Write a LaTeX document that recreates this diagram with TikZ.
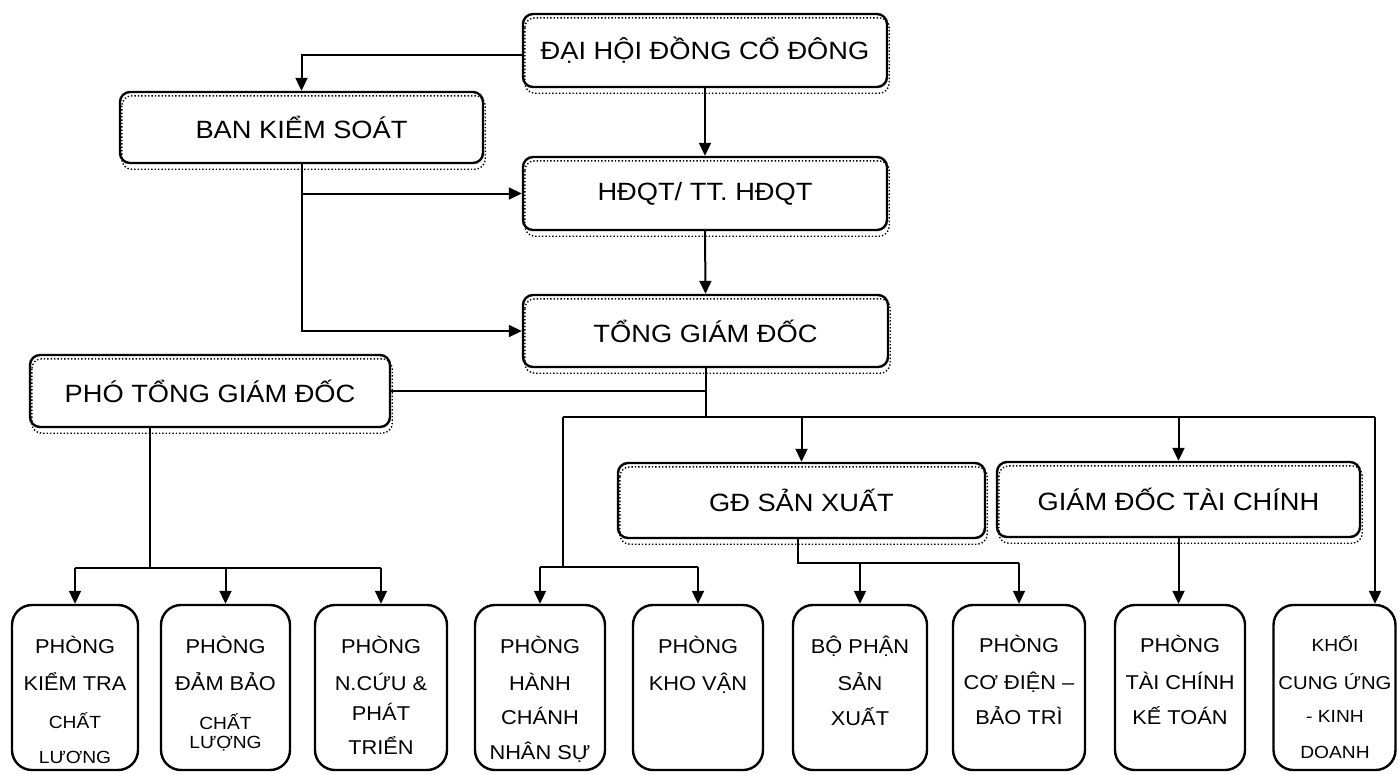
\documentclass[tikz,border=0pt]{standalone}
\usepackage{fontspec}
\setmainfont{Liberation Sans}[FakeStretch=1.09]
\usetikzlibrary{arrows.meta}
\begin{document}
\begin{tikzpicture}[x=0.5pt,y=-0.5pt,
  topbox/.style={draw, line width=1.2pt, rounded corners=5pt, inner sep=0pt, font=\fontsize{12.5}{15}\selectfont},
  botbox/.style={draw, line width=1.2pt, rounded corners=10pt, inner sep=0pt, minimum height=82.5pt},
  ln/.style={anchor=base, inner sep=0pt, font=\fontsize{10}{12}\selectfont},
  sm/.style={anchor=base, inner sep=0pt, font=\fontsize{8.8}{10}\selectfont},
  md/.style={anchor=base, inner sep=0pt, font=\fontsize{9.3}{11}\selectfont},
  arr/.style={-{Triangle[length=6.5pt,width=6pt]}, line width=1pt},
  con/.style={line width=1pt}]
\useasboundingbox (0,0) rectangle (1398,773);

% upper boxes
\node[topbox, minimum width=182pt, minimum height=36.5pt] (dh) at (705,50.5) {ĐẠI HỘI ĐỒNG CỔ ĐÔNG};
\node[topbox, minimum width=181.5pt, minimum height=35.5pt] (bks) at (301.5,127.5) {BAN KIỂM SOÁT};
\node[topbox, minimum width=182pt, minimum height=36.5pt] (hd) at (705,193.5) {HĐQT/ TT. HĐQT};
\node[topbox, minimum width=182.5pt, minimum height=36pt] (tgd) at (705.5,331) {TỔNG GIÁM ĐỐC};
\node[topbox, minimum width=180pt, minimum height=36pt] (pho) at (210,391) {PHÓ TỔNG GIÁM ĐỐC};
\node[topbox, minimum width=183.5pt, minimum height=37.5pt] (gdsx) at (801.5,500.5) {GĐ SẢN XUẤT};
\node[topbox, minimum width=181.5pt, minimum height=37.5pt] (gdtc) at (1178.5,499.5) {GIÁM ĐỐC TÀI CHÍNH};

\foreach \n in {dh,bks,hd,tgd,pho,gdsx,gdtc}
  \draw[densely dotted, line width=0.7pt, rounded corners=5pt]
    ([shift={(3,5)}]\n.north west) rectangle ([shift={(1,5)}]\n.south east);

% lower boxes
\node[botbox, minimum width=63pt] (b1) at (75,687.5) {};
\node[botbox, minimum width=64.5pt] (b2) at (225.5,687.5) {};
\node[botbox, minimum width=66pt] (b3) at (381,687.5) {};
\node[botbox, minimum width=65pt] (b4) at (540,687.5) {};
\node[botbox, minimum width=65pt] (b5) at (698,687.5) {};
\node[botbox, minimum width=67pt] (b6) at (860,687.5) {};
\node[botbox, minimum width=66pt] (b7) at (1019,687.5) {};
\node[botbox, minimum width=65pt] (b8) at (1180,687.5) {};
\node[botbox, minimum width=61pt] (b9) at (1334.5,687.5) {};

\node[ln] (b1a) at (75,653) {PHÒNG};
\node[ln] (b1b) at (75,690) {KIỂM TRA};
\node[sm] (b1c) at (75,728) {CHẤT};
\node[sm] (b1d) at (75,763) {LƯƠNG};

\node[ln] (b2a) at (225.5,653) {PHÒNG};
\node[ln] (b2b) at (225.5,690) {ĐẢM BẢO};
\node[sm] (b2c) at (225.5,729) {CHẤT};
\node[sm] (b2d) at (225.5,748) {LƯỢNG};

\node[ln] (b3a) at (381,653) {PHÒNG};
\node[ln] (b3b) at (381,690) {N.CỨU \&};
\node[ln] (b3c) at (381,720) {PHÁT};
\node[ln] (b3d) at (381,754) {TRIỂN};

\node[ln] (b4a) at (540,653) {PHÒNG};
\node[ln] (b4b) at (540,690) {HÀNH};
\node[ln] (b4c) at (540,724) {CHÁNH};
\node[ln] (b4d) at (540,759) {NHÂN SỰ};

\node[ln] (b5a) at (698,653) {PHÒNG};
\node[ln] (b5b) at (698,690) {KHO VẬN};

\node[ln] (b6a) at (860,653) {BỘ PHẬN};
\node[ln] (b6b) at (860,690) {SẢN};
\node[ln] (b6c) at (860,725) {XUẤT};

\node[ln] (b7a) at (1019,652) {PHÒNG};
\node[ln] (b7b) at (1019,689) {CƠ ĐIỆN –};
\node[ln] (b7c) at (1019,724) {BẢO TRÌ};

\node[ln] (b8a) at (1180,652) {PHÒNG};
\node[ln] (b8b) at (1180,689) {TÀI CHÍNH};
\node[ln] (b8c) at (1180,724) {KẾ TOÁN};

\node[sm] (b9a) at (1335,651) {KHỐI};
\node[md] (b9b) at (1335,689) {CUNG ỨNG};
\node[sm] (b9c) at (1335,722) {- KINH};
\node[sm] (b9d) at (1335,758) {DOANH};

% connectors, upper part
\draw[arr] ([yshift=-2pt]dh.west) -| (bks.north);
\draw[arr] (dh.south) -- (hd.north);
\draw[arr] (bks.south) |- (hd.west);
\draw[arr] (bks.south) |- (tgd.west);
\draw[arr] (hd.south) -- (tgd.north);

% general director fan-out
\coordinate (jl) at (563,417);
\coordinate (jr) at (1375,417);
\draw[con] (tgd.south) -- (tgd.south |- jl);
\draw[con] (pho.east) -- (pho.east -| tgd.south);
\draw[con] (jl) -- (jr);
\draw[arr] (gdsx.north |- jl) -- (gdsx.north);
\draw[arr] (gdtc.north |- jl) -- (gdtc.north);
\draw[arr] (jr) -- (jr |- b9.north);

\coordinate (k1) at (563,567);
\draw[con] (jl) -- (k1);
\draw[con] (k1 -| b4.north) -- (k1 -| b5.north);
\draw[arr] (k1 -| b4.north) -- (b4.north);
\draw[arr] (k1 -| b5.north) -- (b5.north);

% production director
\coordinate (k2) at (798,563);
\draw[con] (gdsx.south -| k2) -- (k2) -- (k2 -| b7.north);
\draw[arr] (k2 -| b6.north) -- (b6.north);
\draw[arr] (k2 -| b7.north) -- (b7.north);

% finance director
\draw[arr] (gdtc.south) -- (gdtc.south |- b8.north);

% deputy general director
\coordinate (p1) at (150,568);
\draw[con] (pho.south -| p1) -- (p1);
\draw[con] (p1 -| b1.north) -- (p1 -| b3.north);
\draw[arr] (p1 -| b1.north) -- (b1.north);
\draw[arr] (p1 -| b2.north) -- (b2.north);
\draw[arr] (p1 -| b3.north) -- (b3.north);
\end{tikzpicture}
\end{document}
